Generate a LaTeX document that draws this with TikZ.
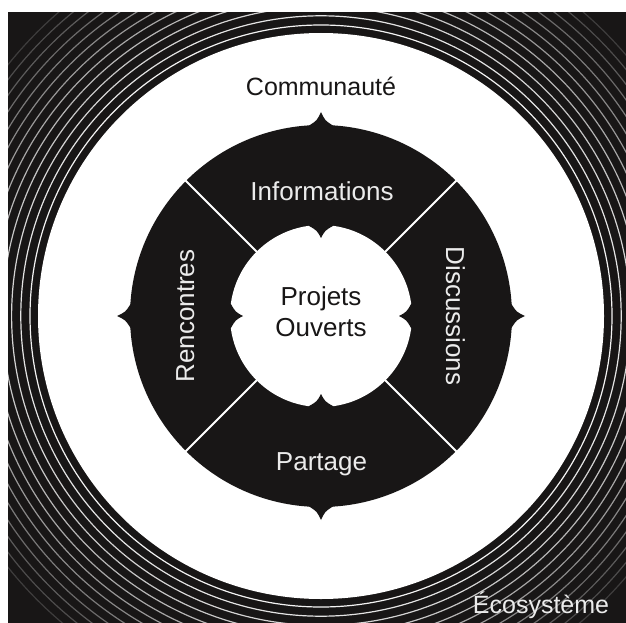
\documentclass[tikz,border=0pt]{standalone}
\usepackage{fontspec}
\setmainfont{Liberation Sans}
\definecolor{ink}{RGB}{24,22,22}
\begin{document}
\begin{tikzpicture}[x=1pt,y=-1pt,
  lbl/.style={font=\fontsize{26}{31}\selectfont, inner sep=0pt, anchor=base},
  wlbl/.style={lbl, text=white!92!black},
  blbl/.style={lbl, text=ink},
  sep/.style={white, line width=2pt},
  groove/.style={white, line width=1.2pt}]
\useasboundingbox (0,0) rectangle (626,623);
\coordinate (c) at (321,316);
% black square background
\fill[ink] (8,12) rectangle (626,623);
% concentric grooves
\begin{scope}
  \clip (8,12) rectangle (626,623);
  \foreach \i in {0,...,12} {
    \pgfmathsetmacro\op{max(0.15,0.95-\i*0.065)}
    \draw[groove, opacity=\op] (c) circle ({291+\i*9.2 pt});
  }
\end{scope}
% white disc
\fill[white] (c) circle (283pt);
% black ring
\fill[ink] (c) circle (191pt);
\fill[white] (c) circle (91pt);
% tips
\foreach \a in {0,90,180,270} {
  \begin{scope}[shift={(c)}, rotate=\a]
    \fill[ink] (186,-12) -- (190.4,-12) .. controls (195.5,-4) .. (204,0)
      .. controls (195.5,4) .. (190.4,12) -- (186,12) -- cycle;
    \fill[ink] (95,-12) -- (90.1,-12) .. controls (85.5,-4) .. (78,0)
      .. controls (85.5,4) .. (90.1,12) -- (95,12) -- cycle;
  \end{scope}
}
% separators
\foreach \a in {45,135,225,315} {
  \draw[sep] ([shift={(\a:90pt)}]c) -- ([shift={(\a:192pt)}]c);
}
% labels
\node[blbl, font=\fontsize{25}{30}\selectfont] (comm) at (321,96) {Communauté};
\node[wlbl] (info) at (322,200) {Informations};
\node[blbl] (proj) at (321,305) {Projets};
\node[blbl] (ouv) at (321,336.5) {Ouverts};
\node[wlbl, rotate=90] (renc) at (194,316) {Rencontres};
\node[wlbl, rotate=-90] (disc) at (446,316) {Discussions};
\node[wlbl] (part) at (321.5,470) {Partage};
\node[wlbl, font=\fontsize{25}{30}\selectfont] (eco) at (541,613) {Écosystème};
\end{tikzpicture}
\end{document}
